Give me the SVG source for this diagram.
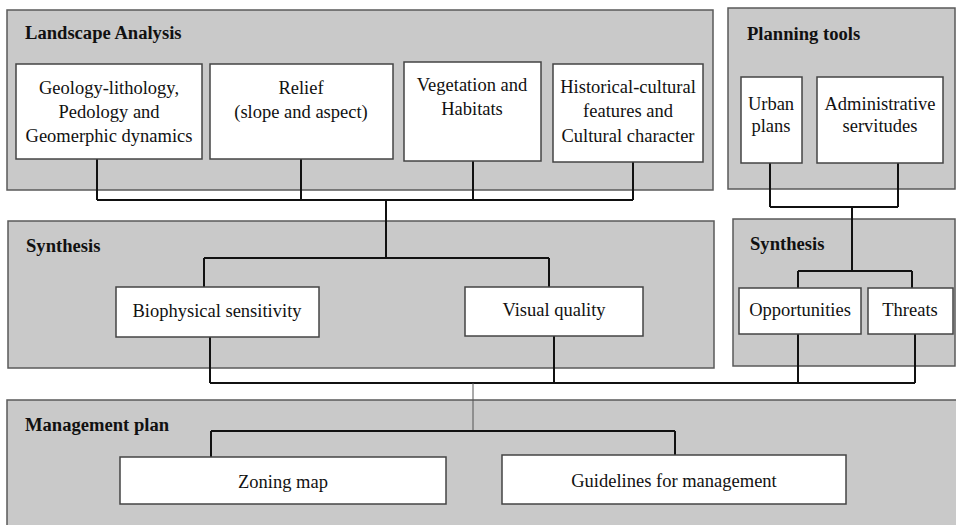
<svg xmlns="http://www.w3.org/2000/svg" width="956" height="525" viewBox="0 0 956 525">
<style>
.panel{fill:#c9c9c9;stroke:#5a5a5a;stroke-width:1.5}
.box{fill:#ffffff;stroke:#444;stroke-width:1.5}
.title{font-family:"Liberation Serif",serif;font-weight:bold;font-size:18.6px;fill:#111}
.t{font-family:"Liberation Serif",serif;font-size:18.5px;fill:#111;text-anchor:middle}
.c{fill:none;stroke:#111;stroke-width:2}
.thin{fill:none;stroke:#555;stroke-width:1}
</style>
<rect width="956" height="525" fill="#ffffff"/>
<g id="panel-landscape"><rect class="panel" x="7" y="10" width="706" height="180"/><text class="title" x="25" y="39">Landscape Analysis</text></g>
<g id="panel-planning"><rect class="panel" x="728" y="8" width="227" height="181"/><text class="title" x="747" y="40">Planning tools</text></g>
<g id="panel-synthesis-left"><rect class="panel" x="8" y="221" width="706" height="147"/><text class="title" x="26" y="252">Synthesis</text></g>
<g id="panel-synthesis-right"><rect class="panel" x="733" y="219" width="222" height="147"/><text class="title" x="750" y="250">Synthesis</text></g>
<g id="panel-management"><rect class="panel" x="7" y="400" width="950" height="130"/><text class="title" x="25" y="431">Management plan</text></g>
<g id="connectors">
<path class="c" d="M97 159V200M301 159V200M473 161V200M633 162V200M97 200H633M386 200V258M204 258H549M204 258V287M549 258V287"/>
<path class="c" d="M770 163V207M898 163V207M770 207H898M852 207V271M798 271H912M798 271V288M912 271V288"/>
<path class="c" d="M210 337V383M554 336V383M798 334V383M915 334V383M210 383H915"/>
<path class="thin" d="M473 383V431"/>
<path class="c" d="M211 431H675M211 431V457M675 431V455"/>
</g>
<g id="n-geology"><rect class="box" x="16" y="64" width="186" height="95"/><text class="t" x="109" y="94">Geology-lithology,</text><text class="t" x="109" y="118">Pedology and</text><text class="t" x="109" y="142">Geomerphic dynamics</text></g>
<g id="n-relief"><rect class="box" x="210" y="64" width="183" height="95"/><text class="t" x="301" y="94">Relief</text><text class="t" x="301" y="118">(slope and aspect)</text></g>
<g id="n-vegetation"><rect class="box" x="404" y="62" width="137" height="99"/><text class="t" x="472" y="91">Vegetation and</text><text class="t" x="472" y="115">Habitats</text></g>
<g id="n-historical"><rect class="box" x="553" y="64" width="150" height="98"/><text class="t" x="628" y="93">Historical-cultural</text><text class="t" x="628" y="117">features and</text><text class="t" x="628" y="142">Cultural character</text></g>
<g id="n-urban"><rect class="box" x="741" y="77" width="61" height="86"/><text class="t" x="771" y="110">Urban</text><text class="t" x="771" y="132">plans</text></g>
<g id="n-admin"><rect class="box" x="817" y="77" width="126" height="86"/><text class="t" x="880" y="110">Administrative</text><text class="t" x="880" y="132">servitudes</text></g>
<g id="n-biophysical"><rect class="box" x="116" y="287" width="203" height="50"/><text class="t" x="217" y="317">Biophysical sensitivity</text></g>
<g id="n-visual"><rect class="box" x="465" y="287" width="178" height="49"/><text class="t" x="554" y="316">Visual quality</text></g>
<g id="n-opportunities"><rect class="box" x="739" y="288" width="122" height="46"/><text class="t" x="800" y="316">Opportunities</text></g>
<g id="n-threats"><rect class="box" x="868" y="288" width="85" height="46"/><text class="t" x="910" y="316">Threats</text></g>
<g id="n-zoning"><rect class="box" x="120" y="457" width="326" height="47"/><text class="t" x="283" y="488">Zoning map</text></g>
<g id="n-guidelines"><rect class="box" x="502" y="455" width="344" height="49"/><text class="t" x="674" y="487">Guidelines for management</text></g>
</svg>
